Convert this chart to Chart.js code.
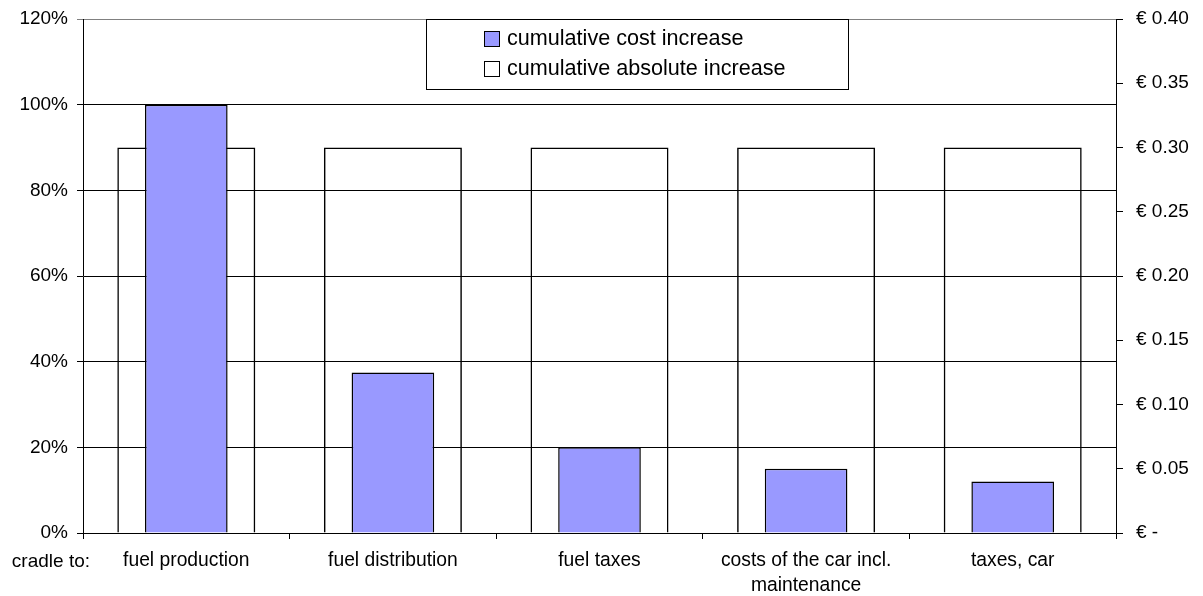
<!DOCTYPE html>
<html>
<head>
<meta charset="utf-8">
<script src="https://cdn.jsdelivr.net/npm/chart.js@4.4.0/dist/chart.umd.min.js"></script>
<style>
  html, body { margin: 0; padding: 0; background: #fff; }
  #wrap { position: relative; width: 1203px; height: 596px; }
</style>
</head>
<body>
<div id="wrap"><canvas id="chart"></canvas></div>
<script>
  // chart data
  var categories = ['fuel production', 'fuel distribution', 'fuel taxes', ['costs of the car incl.', 'maintenance'], 'taxes, car'];
  var costIncreasePct = [100, 37.5, 20, 15, 12];
  var absoluteIncreaseEur = [0.30, 0.30, 0.30, 0.30, 0.30];
  var rowLabel = 'cradle to:';

  var fontFamily = '"Liberation Sans", Arial, sans-serif';
  var blue = '#9999FF';

  // draws "cradle to:" and the boxed legend inside the plot
  var extrasPlugin = {
    id: 'extras',
    afterDraw: function (chart) {
      var ctx = chart.ctx;
      var area = chart.chartArea;
      var xScale = chart.scales.x;
      ctx.save();
      ctx.font = '19px ' + fontFamily;
      ctx.fillStyle = '#000';
      ctx.textAlign = 'right';
      ctx.textBaseline = 'middle';
      ctx.fillText(rowLabel, area.left + 7, xScale.top + 29);

      // legend
      var lx = 426, ly = 19, lw = 422, lh = 70;
      ctx.fillStyle = '#fff';
      ctx.fillRect(lx, ly, lw, lh);
      ctx.strokeStyle = '#000';
      ctx.lineWidth = 1;
      ctx.strokeRect(lx + 0.5, ly + 0.5, lw, lh);
      ctx.font = '21.6px ' + fontFamily;
      ctx.textAlign = 'left';
      var ds = chart.data.datasets;
      for (var i = 0; i < ds.length; i++) {
        var cy = ly + 19 + i * 30;
        ctx.fillStyle = ds[i].backgroundColor === 'transparent' ? '#fff' : ds[i].backgroundColor;
        ctx.fillRect(484, cy - 7, 15, 15);
        ctx.strokeStyle = '#000';
        ctx.strokeRect(484.5, cy - 6.5, 15, 15);
        ctx.fillStyle = '#000';
        ctx.fillText(ds[i].label, 507, cy + 1);
      }
      ctx.restore();
    }
  };

  function fixWidth(w) {
    return function (scale) {
      scale.width = w;
      scale.paddingTop = 0;
      scale.paddingBottom = 0;
    };
  }

  new Chart(document.getElementById('chart'), {
    type: 'bar',
    data: {
      labels: categories,
      datasets: [{
        label: 'cumulative cost increase',
        data: costIncreasePct,
        yAxisID: 'y',
        backgroundColor: blue,
        borderColor: '#000',
        borderWidth: 1.5,
        grouped: false,
        categoryPercentage: 1,
        barPercentage: 0.40
      }, {
        label: 'cumulative absolute increase',
        data: absoluteIncreaseEur,
        yAxisID: 'y1',
        backgroundColor: 'transparent',
        borderColor: '#000',
        borderWidth: 1.5,
        grouped: false,
        categoryPercentage: 1,
        barPercentage: 0.668
      }]
    },
    options: {
      responsive: true,
      maintainAspectRatio: false,
      animation: false,
      layout: { padding: { top: 19 } },
      plugins: {
        legend: { display: false },
        tooltip: { enabled: false }
      },
      scales: {
        x: {
          offset: true,
          grid: { offset: true, drawOnChartArea: false, color: '#000', tickLength: 6 },
          border: { color: '#000', width: 1 },
          ticks: { color: '#000', font: { size: 19.3, family: fontFamily, lineHeight: 1.25 }, padding: 10, maxRotation: 0, autoSkip: false },
          afterFit: function (scale) { scale.height = 63; }
        },
        y: {
          position: 'left',
          min: 0,
          max: 120,
          ticks: {
            stepSize: 20,
            color: '#000',
            padding: 9,
            font: { size: 19, family: fontFamily },
            callback: function (v) { return v + '%'; }
          },
          grid: {
            color: function (c) { return c.tick && c.tick.value === 120 ? '#808080' : '#000'; },
            lineWidth: 1,
            tickLength: 6
          },
          border: { color: '#000', width: 1 },
          afterFit: fixWidth(83)
        },
        y1: {
          position: 'right',
          min: 0,
          max: 0.40,
          ticks: {
            stepSize: 0.05,
            color: '#000',
            padding: 13,
            font: { size: 19, family: fontFamily },
            callback: function (v) { return v === 0 ? '€ -' : '€ ' + v.toFixed(2); }
          },
          grid: { drawOnChartArea: false, color: '#000', tickLength: 7 },
          border: { color: '#000', width: 1 },
          afterFit: fixWidth(87)
        }
      }
    },
    plugins: [extrasPlugin]
  });
</script>
</body>
</html>
